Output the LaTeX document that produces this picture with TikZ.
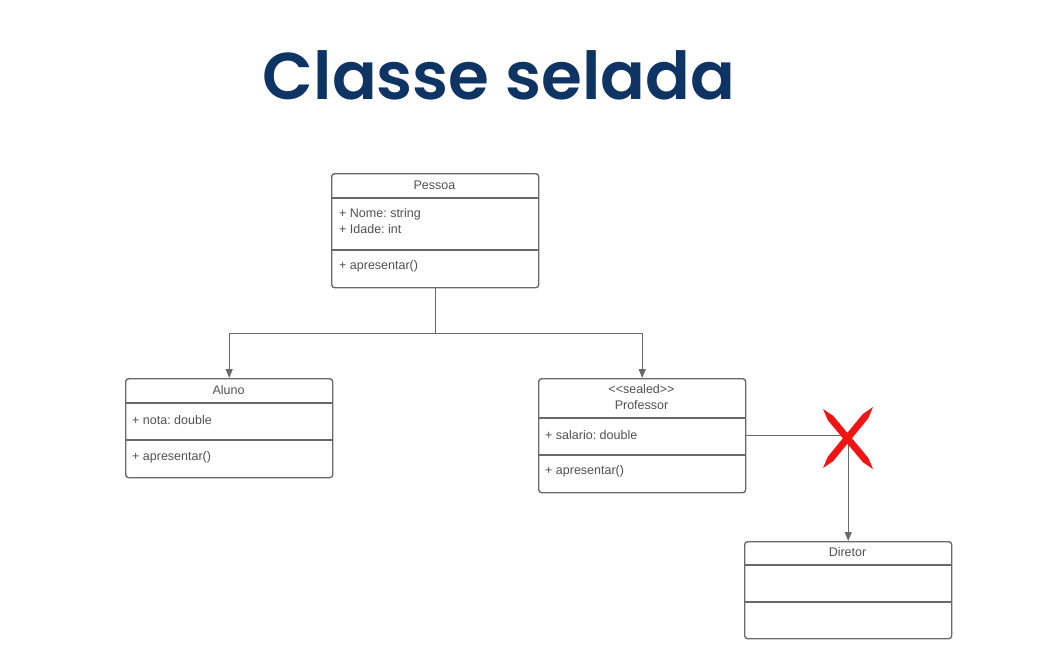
\documentclass[tikz,border=0pt]{standalone}
\usepackage{fontspec}
\setmainfont{Liberation Sans}
\newfontfamily\titlefont{Poppins}[UprightFont={* SemiBold}]
\usetikzlibrary{arrows.meta}
\frenchspacing
\definecolor{titleblue}{RGB}{13,52,98}
\definecolor{umlline}{RGB}{105,105,105}
\definecolor{umltext}{RGB}{80,80,80}
\definecolor{crossred}{RGB}{240,20,20}
\tikzset{
  classbox/.style={draw=umlline, line width=1.4pt, rounded corners=3pt,
    anchor=north west, minimum width=207pt, inner sep=0pt},
  divider/.style={draw=umlline, line width=1.4pt},
  member/.style={anchor=west, inner sep=0pt, text=umltext,
    font=\fontsize{12.5}{15}\selectfont},
  heading/.style={inner sep=0pt, text=umltext, align=center,
    font=\fontsize{12.5}{15}\selectfont},
  inherit/.style={draw=umlline, line width=1.2pt,
    -{Triangle[width=7pt,length=9pt]}},
  link/.style={draw=umlline, line width=1.2pt},
}
\begin{document}
\begin{tikzpicture}[x=1pt,y=-1pt]
\useasboundingbox (0,0) rectangle (1055,667);

% title
\node[inner sep=0pt, text=titleblue] (title) at (499,75)
  {\resizebox{472pt}{!}{\titlefont Classe selada}};

% class Pessoa
\node[classbox, minimum height=114pt] (P) at (331,173) {};
\draw[divider] ([yshift=-25pt]P.north west) -- ([yshift=-25pt]P.north east);
\draw[divider] ([yshift=-77pt]P.north west) -- ([yshift=-77pt]P.north east);
\node[heading] (Pname) at (434.5,185) {Pessoa};
\node[member] (Pa1) at (339,214) {+ Nome: string};
\node[member] (Pa2) at (339,229) {+ Idade: int};
\node[member] (Pm1) at (339,266) {+ apresentar()};

% class Aluno
\node[classbox, minimum height=99pt] (A) at (125,378) {};
\draw[divider] ([yshift=-25pt]A.north west) -- ([yshift=-25pt]A.north east);
\draw[divider] ([yshift=-62pt]A.north west) -- ([yshift=-62pt]A.north east);
\node[heading] (Aname) at (228.5,390) {Aluno};
\node[member] (Aa1) at (132,420) {+ nota: double};
\node[member] (Am1) at (132,457) {+ apresentar()};

% sealed class Professor
\node[classbox, minimum height=114pt] (Pr) at (538,378) {};
\draw[divider] ([yshift=-40pt]Pr.north west) -- ([yshift=-40pt]Pr.north east);
\draw[divider] ([yshift=-77pt]Pr.north west) -- ([yshift=-77pt]Pr.north east);
\node[heading] (Prstereo) at (641.5,389) {{<}{<}sealed{>}{>}};
\node[heading] (Prname) at (641.5,405) {Professor};
\node[member] (Pra1) at (545,435) {+ salario: double};
\node[member] (Prm1) at (545,471) {+ apresentar()};

% class Diretor
\node[classbox, minimum height=97pt] (D) at (744,541) {};
\draw[divider] ([yshift=-24pt]D.north west) -- ([yshift=-24pt]D.north east);
\draw[divider] ([yshift=-61pt]D.north west) -- ([yshift=-61pt]D.north east);
\node[heading] (Dname) at (847.5,552) {Diretor};

% inheritance connectors
\path (P.south) ++(0,45) coordinate (J);
\draw[link] (P.south) -- (J);
\draw[inherit] (J) -| (A.north);
\draw[inherit] (J) -| (Pr.north);
\draw[inherit] (Pr.east) -| (D.north);

% red cross over the forbidden inheritance
\fill[crossred] (823,409) -- (833.2,415.8) -- (868.2,457.8) -- (873,469)
  -- (862.8,462.2) -- (827.8,420.2) -- cycle;
\fill[crossred] (873,407) -- (868.2,418.4) -- (833.2,461.1) -- (823,468)
  -- (827.8,456.7) -- (862.8,414.0) -- cycle;
\end{tikzpicture}
\end{document}
